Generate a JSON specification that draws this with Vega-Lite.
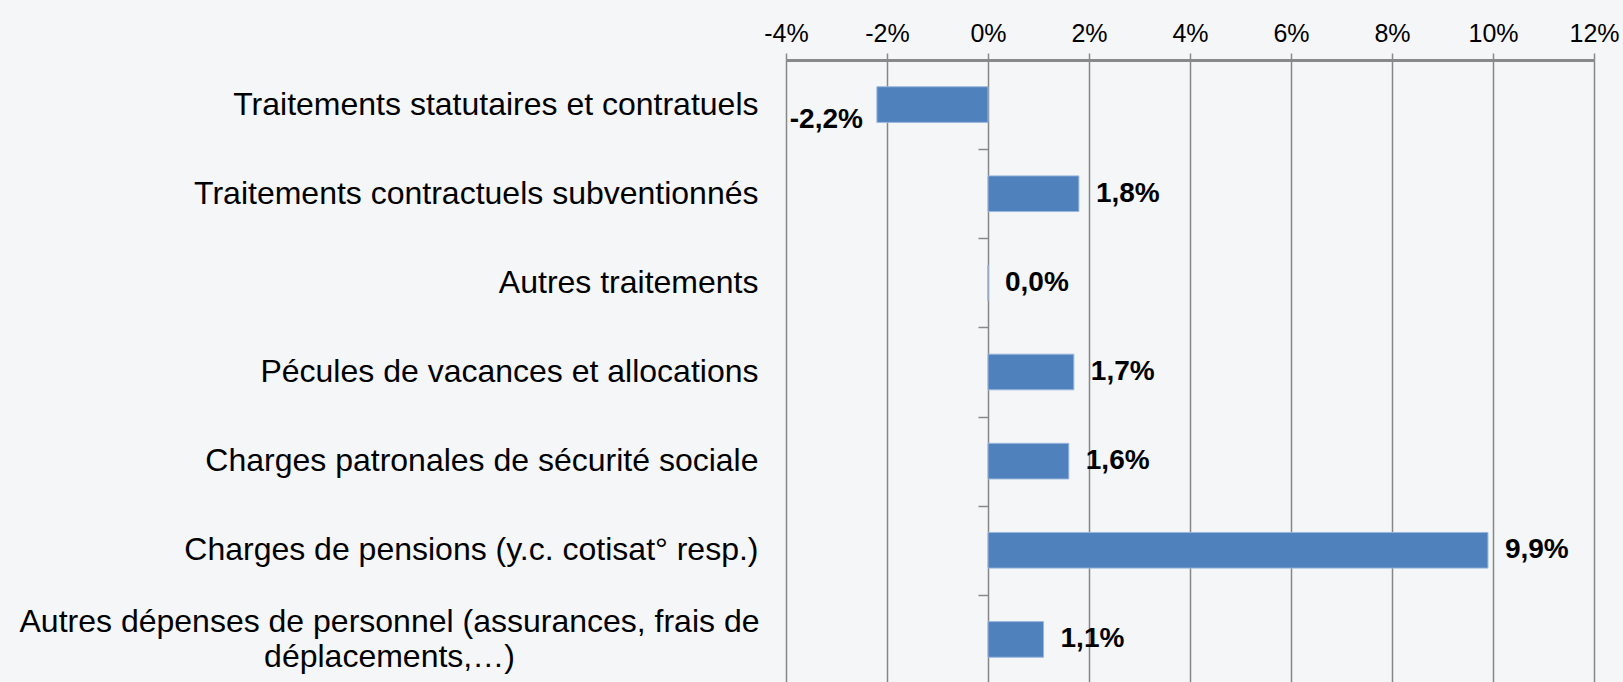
{
  "$schema": "https://vega.github.io/schema/vega-lite/v6.json",
  "autosize": {"type": "none"},
  "padding": {"left": 786, "top": 60, "right": 29, "bottom": 0},
  "width": 808,
  "height": 624,
  "background": "#f5f6f8",
  "config": {
    "locale": {"number": {"decimal": ",", "thousands": ".", "grouping": [3], "currency": ["", " €"], "minus": "-"}},
    "view": {"stroke": null},
    "font": "Liberation Sans"
  },
  "data": {"values": [
    {"poste": "Traitements statutaires et contratuels", "evolution": -0.022},
    {"poste": "Traitements contractuels subventionnés", "evolution": 0.018},
    {"poste": "Autres traitements", "evolution": 0.0},
    {"poste": "Pécules de vacances et allocations", "evolution": 0.017},
    {"poste": "Charges patronales de sécurité sociale", "evolution": 0.016},
    {"poste": "Charges de pensions (y.c. cotisat° resp.)", "evolution": 0.099},
    {"poste": "Autres dépenses de personnel (assurances, frais de déplacements,…)", "evolution": 0.011}
  ]},
  "encoding": {
    "x": {
      "field": "evolution", "type": "quantitative",
      "scale": {"domain": [-0.04, 0.12], "nice": false, "zero": false},
      "axis": {
        "orient": "top", "title": null,
        "values": [-0.04, -0.02, 0, 0.02, 0.04, 0.06, 0.08, 0.1, 0.12],
        "format": ".0%",
        "labelFont": "Liberation Sans",
        "labelFontSize": 25, "labelColor": "#000000", "labelPadding": 7, "labelFlush": false,
        "domainColor": "#898989", "domainWidth": 3,
        "tickColor": "#898989", "tickWidth": 1.5, "tickSize": 7,
        "grid": true, "gridColor": "#868686", "gridWidth": 1.5
      }
    }
  },
  "layer": [
    {
      "mark": {"type": "bar", "color": "#4f81bd", "stroke": "#9bb7dc", "strokeWidth": 1},
      "encoding": {
        "y": {
          "field": "poste", "type": "nominal", "sort": null,
          "scale": {"paddingInner": 0.6, "paddingOuter": 0.3},
          "axis": {
            "orient": "left",
            "title": null, "ticks": false, "domain": false, "grid": false,
            "labelFontSize": 32, "labelColor": "#000000",
            "labelLimit": 900, "labelLineHeight": 35,
            "labelPadding": {"condition": {"test": "indexof(datum.value, 'frais de') > 0", "value": 397}, "value": 28},
            "labelAlign": {"condition": {"test": "indexof(datum.value, 'frais de') > 0", "value": "center"}, "value": "right"},
            "labelOffset": {"condition": {"test": "indexof(datum.value, 'frais de') > 0", "value": -17}, "value": 0},
            "labelExpr": "indexof(datum.label, 'frais de ') > 0 ? [substring(datum.label, 0, indexof(datum.label, 'frais de ') + 8), substring(datum.label, indexof(datum.label, 'frais de ') + 9)] : datum.label"
          }
        }
      }
    },
    {
      "transform": [{"filter": "datum.evolution >= 0"}],
      "mark": {"type": "text", "align": "left", "baseline": "middle", "dx": 17, "fontSize": 28, "fontWeight": "bold", "color": "#000000"},
      "encoding": {
        "y": {
          "field": "poste", "type": "nominal", "sort": null,
          "axis": {
            "orient": "left",
            "title": null, "labels": false, "domain": false, "grid": false,
            "ticks": true, "tickOffset": 44.57, "tickSize": 10, "tickWidth": 1.5,
            "tickColor": "#898989", "offset": -202
          }
        },
        "text": {"field": "evolution", "type": "quantitative", "format": ".1%"}
      }
    },
    {
      "transform": [{"filter": "datum.evolution < 0"}],
      "mark": {"type": "text", "align": "right", "baseline": "middle", "dx": -14, "dy": 15, "fontSize": 28, "fontWeight": "bold", "color": "#000000"},
      "encoding": {
        "y": {"field": "poste", "type": "nominal", "sort": null, "axis": null},
        "text": {"field": "evolution", "type": "quantitative", "format": ".1%"}
      }
    }
  ],
  "resolve": {"axis": {"y": "independent"}}
}
